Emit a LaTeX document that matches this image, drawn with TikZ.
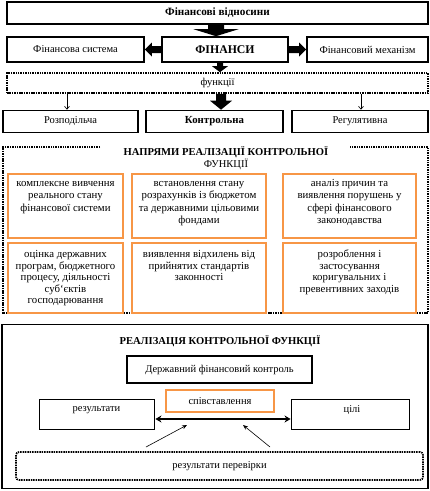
\documentclass[tikz,border=0pt]{standalone}
\usepackage{fontspec}
\setmainfont{Liberation Serif}
\usetikzlibrary{arrows.meta}
\definecolor{orng}{RGB}{247,150,70}
\newcommand{\rowA}[2]{\parbox[t]{#1pt}{\centering\fontsize{10.8}{12.4}\selectfont #2}}
\newcommand{\rowB}[2]{\parbox[t]{#1pt}{\centering\fontsize{10.8}{11.5}\selectfont #2}}
\begin{document}
\begin{tikzpicture}[x=1pt,y=-1pt,
  txt/.style={font=\fontsize{10.5}{12.3}\selectfont},
  blk/.style={draw, line width=1.6pt, inner sep=0pt, txt},
  thin/.style={draw, line width=0.9pt, inner sep=0pt, txt},
  dotbox/.style={draw, line width=1.7pt, dash pattern=on 1.5pt off 0.9pt, inner sep=0pt, txt},
  obox/.style={draw=orng, line width=2pt, inner sep=0pt, txt},
  intext/.style={inner sep=0pt, anchor=base},
  thinarrow/.style={line width=0.6pt, -{Straight Barb[length=3pt,width=5pt]}},
]
\useasboundingbox (0,0) rectangle (430,491);
% top section
\node[blk, minimum width=421, minimum height=22, font=\fontsize{11.2}{12}\selectfont\bfseries] (rel) at (217.5,13) {Фінансові відносини};
\node[blk, minimum width=137, minimum height=25] (sys) at (75.5,49.5) {Фінансова система};
\node[blk, minimum width=126, minimum height=25, font=\fontsize{11.8}{14}\selectfont\bfseries] (fin) at (225,49.5) {ФІНАНСИ};
\node[blk, minimum width=121, minimum height=25] (mech) at (367.5,49.5) {Фінансовий механізм};
\node[dotbox, minimum width=421, minimum height=20] (func) at (217.5,83) {функції};
\node[blk, minimum width=135, minimum height=22] (rozp) at (70.5,121.5) {Розподільча};
\node[blk, minimum width=137, minimum height=22, font=\fontsize{10.8}{12}\selectfont\bfseries] (kontr) at (214.5,121.5) {Контрольна};
\node[blk, minimum width=136, minimum height=22] (reg) at (360,121.5) {Регулятивна};
% block arrows (drawn as filled outlines between the nodes)
\fill ([xshift=-9.5pt]rel.south) -- ([xshift=6.5pt]rel.south) -- ([xshift=-1pt,yshift=7pt]fin.north)
  -- ([xshift=13.5pt,yshift=7pt]fin.north) -- ([xshift=-9pt]fin.north)
  -- ([xshift=-31.5pt,yshift=7pt]fin.north) -- ([xshift=-17pt,yshift=7pt]fin.north) -- cycle;
\fill ([yshift=3.5pt]fin.west) -- ([yshift=-3.5pt]fin.west) -- ([xshift=7pt,yshift=-3.5pt]sys.east)
  -- ([xshift=7pt,yshift=-7pt]sys.east) -- (sys.east) -- ([xshift=7pt,yshift=7pt]sys.east)
  -- ([xshift=7pt,yshift=3.5pt]sys.east) -- cycle;
\fill ([yshift=3.5pt]fin.east) -- ([yshift=-3.5pt]fin.east) -- ([xshift=-7pt,yshift=-3.5pt]mech.west)
  -- ([xshift=-7pt,yshift=-7pt]mech.west) -- (mech.west) -- ([xshift=-7pt,yshift=7pt]mech.west)
  -- ([xshift=-7pt,yshift=3.5pt]mech.west) -- cycle;
\fill ([xshift=-8pt]fin.south) -- ([xshift=-2pt]fin.south) -- ([xshift=5.5pt,yshift=6pt]func.north)
  -- ([xshift=10.5pt,yshift=6pt]func.north) -- ([xshift=2.5pt]func.north)
  -- ([xshift=-5.5pt,yshift=6pt]func.north) -- ([xshift=-0.5pt,yshift=6pt]func.north) -- cycle;
\fill ([xshift=-1.5pt]func.south) -- ([xshift=8.5pt]func.south) -- ([xshift=11.5pt,yshift=9pt]kontr.north)
  -- ([xshift=17.5pt,yshift=9pt]kontr.north) -- ([xshift=6.5pt]kontr.north)
  -- ([xshift=-4.5pt,yshift=9pt]kontr.north) -- ([xshift=1.5pt,yshift=9pt]kontr.north) -- cycle;
\draw[thinarrow] ([xshift=-150.5pt]func.south) -- (rozp.north -| 67,0);
\draw[thinarrow] ([xshift=143.5pt]func.south) -- (reg.north -| 361,0);
% middle section
\draw[line width=1.7pt, dash pattern=on 1.5pt off 0.9pt] (100,147) -- (3,147) -- (3,313) -- (428,313) -- (428,147) -- (350,147);
\node[txt, font=\fontsize{10.6}{12}\selectfont\bfseries] (napr) at (226,152) {НАПРЯМИ РЕАЛІЗАЦІЇ КОНТРОЛЬНОЇ};
\node[txt] (napr2) at (226,164) {ФУНКЦІЇ};
\node[obox, minimum width=115, minimum height=64] (b1) at (65.5,206) {};
\node[obox, minimum width=134, minimum height=64] (b2) at (199,206) {};
\node[obox, minimum width=133, minimum height=64] (b3) at (349.5,206) {};
\node[obox, minimum width=115, minimum height=70] (b4) at (65.5,278) {};
\node[obox, minimum width=134, minimum height=70] (b5) at (199,278) {};
\node[obox, minimum width=133, minimum height=70] (b6) at (349.5,278) {};
\node[intext] (t1) at ([yshift=-13.5pt]b1.north) {\rowA{112}{комплексне вивчення\\реального стану\\фінансової системи}};
\node[intext] (t2) at ([yshift=-13.5pt]b2.north) {\rowA{132}{встановлення стану\\розрахунків із бюджетом\\та державними цільовими\\фондами}};
\node[intext] (t3) at ([yshift=-13.5pt]b3.north) {\rowA{130}{аналіз причин та\\виявлення порушень у\\сфері фінансового\\законодавства}};
\node[intext] (t4) at ([yshift=-15.5pt]b4.north) {\rowB{112}{оцінка державних\\програм, бюджетного\\процесу, діяльності\\суб`єктів\\господарювання}};
\node[intext] (t5) at ([yshift=-15.5pt]b5.north) {\rowB{132}{виявлення відхилень від\\прийнятих стандартів\\законності}};
\node[intext] (t6) at ([yshift=-15.5pt]b6.north) {\rowB{130}{розроблення і\\застосування\\коригувальних і\\превентивних заходів}};
% bottom section
\node[draw, line width=1.8pt, minimum width=426, minimum height=164] (real) at (215,406.5) {};
\node[txt, font=\fontsize{10.6}{12}\selectfont\bfseries] (realt) at (220,341) {РЕАЛІЗАЦІЯ КОНТРОЛЬНОЇ ФУНКЦІЇ};
\node[blk, minimum width=185, minimum height=27] (dfk) at (219.5,369.5) {\raisebox{2pt}{Державний фінансовий контроль}};
\node[obox, minimum width=108, minimum height=22] (spiv) at (220,401) {співставлення};
\node[thin, minimum width=115, minimum height=30] (res) at (96.5,414) {};
\node[thin, minimum width=118, minimum height=30] (cil) at (350,414) {};
\node[txt] (rest) at ([yshift=4pt]res.center) {результати};
\node[txt] (cilt) at ([yshift=4pt,xshift=2pt]cil.center) {цілі};
\node[dotbox, rounded corners=3pt, minimum width=407, minimum height=28] (perev) at (219.5,466) {результати перевірки};
\draw[line width=1.4pt, {Stealth[length=6pt,width=7pt]}-{Stealth[length=6pt,width=7pt]}] ([yshift=-5pt,xshift=1pt]res.east) -- ([yshift=-5pt]cil.west);
\coordinate (s1) at (146,447);
\coordinate (e1) at (187,425);
\coordinate (s2) at (270,447);
\coordinate (e2) at (243,425);
\draw[line width=0.6pt, -{Stealth[length=5pt,width=4pt]}] (s1) -- (e1);
\draw[line width=0.6pt, -{Stealth[length=5pt,width=4pt]}] (s2) -- (e2);
\end{tikzpicture}
\end{document}
